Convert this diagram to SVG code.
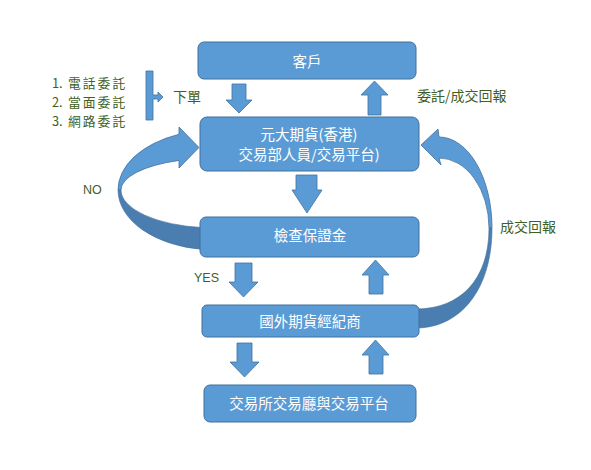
<svg xmlns="http://www.w3.org/2000/svg" width="591" height="470" viewBox="0 0 591 470">
<style>
.box{fill:#5b9bd5;stroke:#41719c;stroke-width:1}
.arr{fill:#5b9bd5;stroke:#41719c;stroke-width:0.8}
.dark{fill:#4a7db0;stroke:#41719c;stroke-width:0.6}
.bt{font-family:"Microsoft JhengHei","Noto Sans CJK TC",sans-serif;font-size:14.5px;fill:#ffffff;text-anchor:middle;dominant-baseline:central}
.lbl{font-family:"Microsoft JhengHei","Noto Sans CJK TC",sans-serif;font-size:14px;fill:#3f5f24;dominant-baseline:central}
.lst{font-family:"Microsoft JhengHei","Noto Sans CJK TC",sans-serif;font-size:12.8px;fill:#3f5f24;dominant-baseline:central}
.en{font-family:"Liberation Sans","DejaVu Sans",sans-serif;font-size:12.5px;fill:#3f5f24;dominant-baseline:central}
</style>
<rect width="591" height="470" fill="#ffffff"/>
<g id="connectors">
  <!-- curved NO arrow -->
  <path class="dark" d="M118,190 A97 60 0 0 0 204,249.6 L204,227.7 A94 38 0 0 1 121,190 Z"/>
  <path class="arr" d="M118,190 A97 60 0 0 1 179,134.3 L179,127 L199,147.5 L179,168 L179,160.4 A94 32 0 0 0 121,190 Z"/>
  <!-- curved 成交回報 arrow -->
  <path class="dark" d="M492,228 C492,290 460,328 416,328 L416,309 C460,309 489,280 489,228 Z"/>
  <path class="arr" d="M492,228 A53 91 0 0 0 439,137 L438,129 L421,145 L441,165 L439,158 A50 70 0 0 1 489,228 Z"/>
  <!-- straight block arrows -->
  <polygon class="arr" points="232,84 246,84 246,100 252,100 239,113 226,100 232,100"/>
  <polygon class="arr" points="368,115 381,115 381,95 388,95 374.5,81 361,95 368,95"/>
  <polygon class="arr" points="296,175 317,175 317,190 322,190 307,213 292,190 296,190"/>
  <polygon class="arr" points="235,263 252,263 252,282 258,282 243.5,297 229,282 235,282"/>
  <polygon class="arr" points="369,294 383,294 383,275 389,275 375.5,260 362,275 369,275"/>
  <polygon class="arr" points="237,343 252,343 252,362 259,362 244.5,377 230,362 237,362"/>
  <polygon class="arr" points="369,374 383,374 383,355 389,355 375.5,340 362,355 369,355"/>
  <!-- bracket -->
  <path class="arr" d="M146,71 L153,71 L153,95 L158,95 L158,92 L163,97 L158,102 L158,99 L153,99 L153,120 L146,120 Z"/>
</g>
<g id="n-client">
  <rect class="box" x="198" y="42" width="218" height="37" rx="6"/>
  <text class="bt" x="307" y="60.5">客戶</text>
</g>
<g id="n-yuanta">
  <rect class="box" x="200" y="117" width="219" height="54" rx="7"/>
  <text class="bt" x="309" y="133">元大期貨(香港)</text>
  <text class="bt" x="309" y="153">交易部人員/交易平台)</text>
</g>
<g id="n-margin">
  <rect class="box" x="200" y="217" width="219" height="40" rx="6"/>
  <text class="bt" x="310" y="234">檢查保證金</text>
</g>
<g id="n-broker">
  <rect class="box" x="202" y="305" width="217" height="32" rx="5"/>
  <text class="bt" x="310" y="320">國外期貨經紀商</text>
</g>
<g id="n-exchange">
  <rect class="box" x="204" y="385" width="212" height="37" rx="6"/>
  <text class="bt" x="309" y="402">交易所交易廳與交易平台</text>
</g>
<g id="labels">
  <text class="lst" y="82"><tspan x="52">1.</tspan><tspan x="68" letter-spacing="2">電話委託</tspan></text>
  <text class="lst" y="101"><tspan x="52">2.</tspan><tspan x="68" letter-spacing="2">當面委託</tspan></text>
  <text class="lst" y="120"><tspan x="52">3.</tspan><tspan x="68" letter-spacing="2">網路委託</tspan></text>
  <text class="lbl" x="173" y="96">下單</text>
  <text class="lbl" x="417" y="95">委託/成交回報</text>
  <text class="lbl" x="500" y="226">成交回報</text>
  <text class="en" x="83" y="190">NO</text>
  <text class="en" x="194" y="278">YES</text>
</g>
</svg>
